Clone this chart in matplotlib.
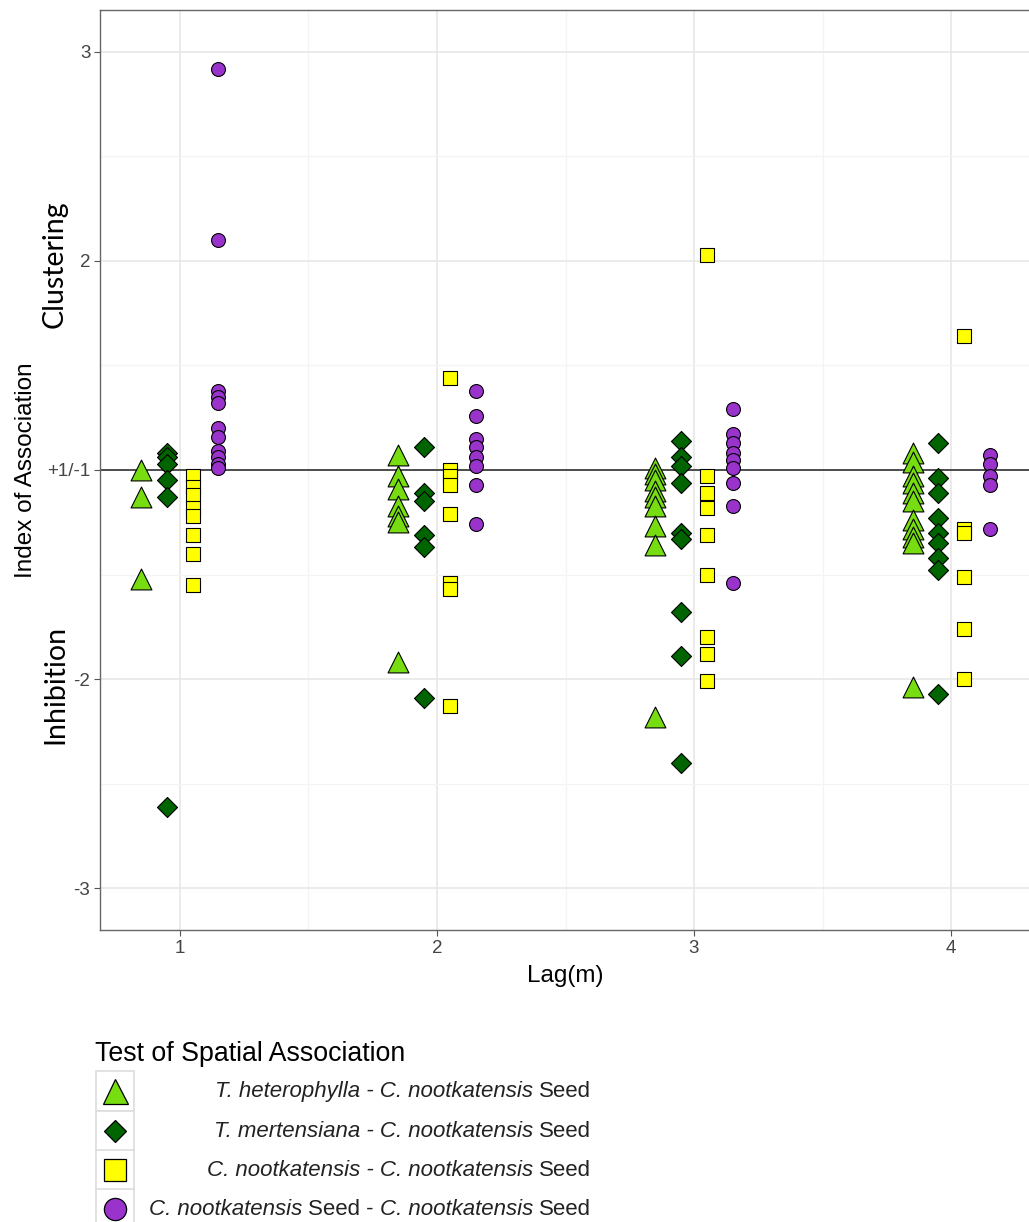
import matplotlib
matplotlib.use("Agg")
import matplotlib.pyplot as plt
from matplotlib.patches import Rectangle
from matplotlib.ticker import MultipleLocator

plt.rcParams["font.family"] = ["Liberation Sans", "DejaVu Sans"]

# index of association values (|value| >= 1)
lags = [1, 2, 3, 4]

th_cn = [
    [-1.00, -1.13, -1.52],
    [1.07, -1.03, -1.09, -1.17, -1.22, -1.25, -1.92],
    [1.01, -1.02, -1.05, -1.10, -1.13, -1.17, -1.27, -1.36, -2.18],
    [1.08, 1.04, -1.03, -1.06, -1.11, -1.15, -1.24, -1.28, -1.32, -1.35, -2.04],
]
tm_cn = [
    [1.08, 1.06, 1.03, -1.05, -1.13, -2.61],
    [1.11, -1.11, -1.15, -1.31, -1.37, -2.09],
    [1.14, 1.06, 1.02, -1.06, -1.30, -1.33, -1.68, -1.89, -2.40],
    [1.13, -1.04, -1.11, -1.23, -1.30, -1.35, -1.42, -1.48, -2.07],
]
cn_cn = [
    [-1.03, -1.08, -1.12, -1.18, -1.22, -1.31, -1.40, -1.55],
    [1.44, -1.00, -1.03, -1.07, -1.21, -1.54, -1.57, -2.13],
    [2.03, -1.03, -1.11, -1.18, -1.31, -1.50, -1.80, -1.88, -2.01],
    [1.64, -1.28, -1.30, -1.51, -1.76, -2.00],
]
seed_seed = [
    [2.92, 2.10, 1.38, 1.35, 1.32, 1.20, 1.16, 1.09, 1.06, 1.03, 1.01],
    [1.38, 1.26, 1.15, 1.11, 1.06, 1.02, -1.07, -1.26],
    [1.29, 1.17, 1.13, 1.08, 1.05, 1.01, -1.06, -1.17, -1.54],
    [1.07, 1.03, -1.03, -1.07, -1.28],
]

y_ticks = [3, 2, 1, -2, -3]
y_tick_labels = ["3", "2", "+1/-1", "-2", "-3"]


def to_axis(v):
    # +1 and -1 share the centre line of the axis
    return v - 1 if v > 0 else v + 1


groups = [
    (th_cn, -0.15, "^", "#77dd11", 15, 18),
    (tm_cn, -0.05, "D", "#006400", 10.2, 11.2),
    (cn_cn, 0.05, "s", "#ffff00", 10, 15.5),
    (seed_seed, 0.15, "o", "#9933cc", 10, 16),
]

W, H = 1029, 1222
fig = plt.figure(figsize=(W / 100, H / 100), dpi=100)
ax = fig.add_axes([100 / W, 1 - 930 / H, 931 / W, 920 / H])

for data, off, marker, color, ms, _ in groups:
    for lag, vals in zip(lags, data):
        ax.scatter(
            [lag + off] * len(vals),
            [to_axis(v) for v in vals],
            marker=marker, s=ms ** 2, facecolor=color,
            edgecolor="black", linewidth=0.8, zorder=3
        )

ax.axhline(0, color="#222222", linewidth=1.1, zorder=2)

ax.set_xlim(0.689, 4.311)
ax.set_ylim(-2.2, 2.2)
ax.set_xticks(lags)
ax.set_xticklabels([str(l) for l in lags])
ax.set_yticks([to_axis(v) for v in y_ticks])
ax.set_yticklabels(y_tick_labels)
ax.xaxis.set_minor_locator(MultipleLocator(0.5))
ax.yaxis.set_minor_locator(MultipleLocator(0.5))
ax.grid(which="major", color="#e8e8e8", linewidth=1.2, zorder=0)
ax.grid(which="minor", color="#f4f4f4", linewidth=0.9, zorder=0)
ax.set_axisbelow(True)
ax.tick_params(which="major", length=4, width=0.8, color="#555555",
               labelsize=13.5, labelcolor="#444444", pad=3)
ax.tick_params(which="minor", length=0)
for sp in ax.spines.values():
    sp.set_color("#666666")
    sp.set_linewidth(1.0)

ax.set_xlabel("Lag(m)", fontsize=17.5, labelpad=6)

fig.text(26 / W, 1 - 470 / H, "Index of Association", rotation=90,
         ha="center", va="center", fontsize=17.5)
fig.text(55 / W, 1 - 264 / H, "Clustering", rotation=90, ha="center",
         va="center", fontsize=20.5, family=["Lato", "DejaVu Sans"])
fig.text(55 / W, 1 - 684 / H, "Inhibition", rotation=90, ha="center",
         va="center", fontsize=20.5, family=["Lato", "DejaVu Sans"])

# legend drawn in pixel coordinates
lax = fig.add_axes([0, 0, 1, 1], zorder=5)
lax.set_xlim(0, W)
lax.set_ylim(H, 0)
lax.axis("off")
lax.patch.set_alpha(0)

lax.text(95, 1054, "Test of Spatial Association", fontsize=19.3,
         ha="left", va="center")

labels = [
    [("T. heterophylla - C. nootkatensis", "italic"), ("Seed", "normal")],
    [("T. mertensiana - C. nootkatensis", "italic"), ("Seed", "normal")],
    [("C. nootkatensis - C. nootkatensis", "italic"), ("Seed", "normal")],
    [("C. nootkatensis", "italic"), ("Seed -", "normal"),
     ("C. nootkatensis", "italic"), ("Seed", "normal")],
]
row_y = [1091, 1131, 1170, 1209]
key_h = 39.5

for (data, off, marker, color, ms, lms), parts, yc in zip(groups, labels, row_y):
    lax.add_patch(Rectangle((96, yc - key_h / 2), 38, key_h,
                            facecolor="white", edgecolor="#dddddd",
                            linewidth=1.2))
    lax.plot([115], [yc], marker=marker, markersize=lms,
             markerfacecolor=color, markeredgecolor="black",
             markeredgewidth=0.9, linestyle="none")
    prev = None
    for txt, style in reversed(parts):
        if prev is None:
            prev = lax.text(591, yc + 6, txt, ha="right", va="baseline",
                            fontsize=16, style=style, color="#222222")
        else:
            prev = lax.annotate(txt, xy=(0, yc + 6),
                                xycoords=(prev, lax.transData),
                                xytext=(-4.4, 0), textcoords="offset points",
                                ha="right", va="baseline", fontsize=16,
                                style=style, color="#222222")

fig.savefig("out.png", dpi=100)
